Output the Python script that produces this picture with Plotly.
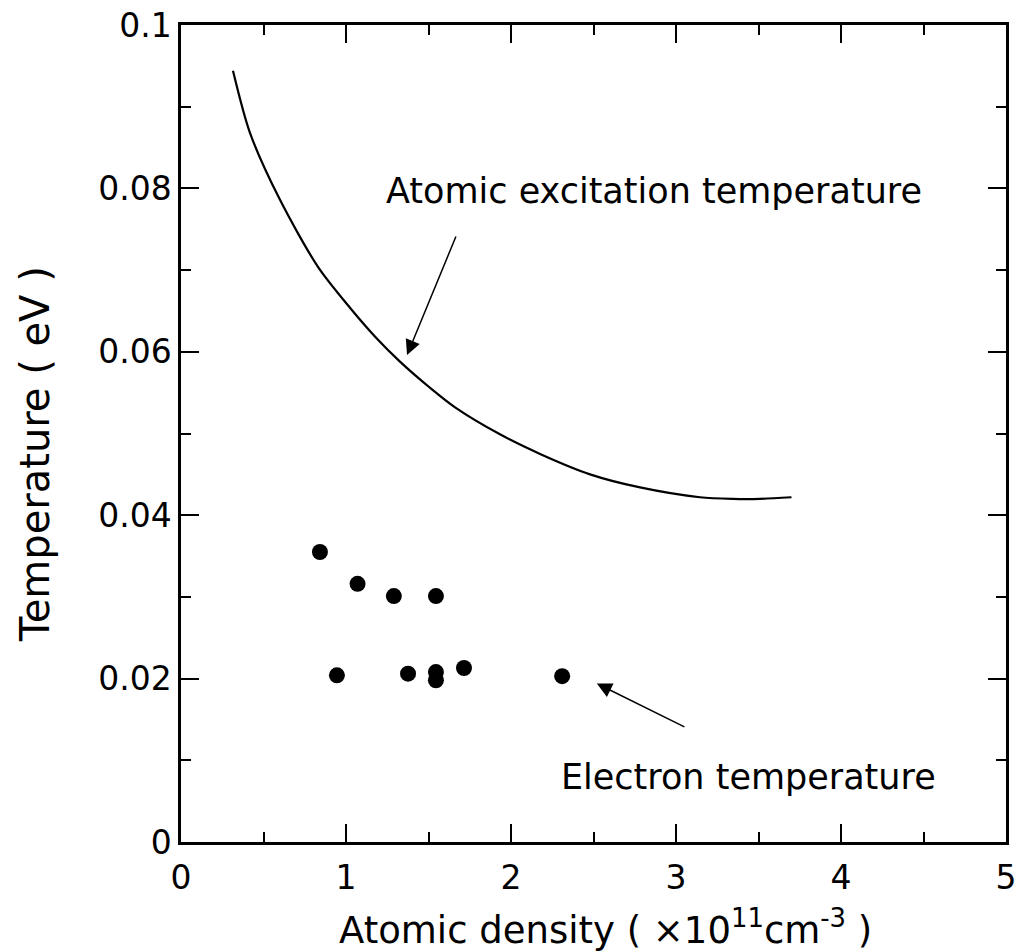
import plotly.graph_objects as go

# Atomic excitation temperature curve
curve_x = [0.315, 0.418, 0.60, 0.83, 1.024, 1.188, 1.327, 1.509, 1.661, 1.933, 2.176, 2.479, 2.782, 3.145, 3.345, 3.509, 3.70]
curve_y = [0.0944, 0.0868, 0.0786, 0.0704, 0.0654, 0.0616, 0.0588, 0.0556, 0.0532, 0.0499, 0.0475, 0.0450, 0.0434, 0.0422, 0.0420, 0.0420, 0.0422]

# Electron temperature points
pts_x = [0.842, 1.07, 1.29, 1.545, 0.945, 1.376, 1.545, 1.545, 1.715, 2.31]
pts_y = [0.0355, 0.0316, 0.0301, 0.0301, 0.0204, 0.0206, 0.0208, 0.0198, 0.0213, 0.0203]

x_ticks = [0, 1, 2, 3, 4, 5]
x_ticklabels = ["0", "1", "2", "3", "4", "5"]
y_ticks = [0, 0.02, 0.04, 0.06, 0.08, 0.1]
y_ticklabels = ["0", "0.02", "0.04", "0.06", "0.08", "0.1"]

x_title = "Atomic density ( \u00d710<sup>11</sup>cm<sup>-3</sup> )"
y_title = "Temperature ( eV )"

FONT = "DejaVu Sans"

fig = go.Figure()
fig.add_trace(go.Scatter(x=curve_x, y=curve_y, mode="lines",
                         line=dict(color="black", width=2.2, shape="spline", smoothing=0.8),
                         showlegend=False))
fig.add_trace(go.Scatter(x=pts_x, y=pts_y, mode="markers", marker=dict(color="black", size=16),
                         showlegend=False))

axis_common = dict(showline=True, linecolor="black", linewidth=2.5, mirror="allticks",
                   ticks="inside", ticklen=18, tickwidth=2, tickcolor="black",
                   showgrid=False, zeroline=False,
                   tickfont=dict(family=FONT, size=33, color="black"))

fig.update_xaxes(range=[0, 5], tickvals=x_ticks, ticktext=x_ticklabels, ticklabelstandoff=5,
                 minor=dict(ticks="inside", ticklen=10, tickwidth=1.5, tickcolor="black", dtick=0.5, tick0=0),
                 **axis_common)
fig.update_yaxes(range=[0, 0.1], tickvals=y_ticks, ticktext=y_ticklabels,
                 minor=dict(ticks="inside", ticklen=10, tickwidth=1.5, tickcolor="black", dtick=0.01, tick0=0),
                 **axis_common)

# axis titles
fig.add_annotation(x=0.514, y=-0.105, xref="paper", yref="paper", xanchor="center", yanchor="middle",
                   text=x_title, showarrow=False, font=dict(family=FONT, size=37, color="black"))
fig.add_annotation(x=-0.177, y=0.475, xref="paper", yref="paper", xanchor="center", yanchor="middle",
                   text=y_title, textangle=-90, showarrow=False, font=dict(family=FONT, size=40, color="black"))

# arrows and labels
fig.add_annotation(x=1.37, y=0.0596, ax=1.67, ay=0.0743, axref="x", ayref="y", xref="x", yref="y",
                   showarrow=True, arrowhead=2, arrowsize=2, arrowwidth=1.5, arrowcolor="black", text="")
fig.add_annotation(x=2.52, y=0.0194, ax=3.06, ay=0.0140, axref="x", ayref="y", xref="x", yref="y",
                   showarrow=True, arrowhead=2, arrowsize=2, arrowwidth=1.5, arrowcolor="black", text="")
fig.add_annotation(x=1.23, y=0.0797, xref="x", yref="y", xanchor="left", yanchor="middle",
                   text="Atomic excitation temperature", showarrow=False,
                   font=dict(family=FONT, size=35, color="black"))
fig.add_annotation(x=2.29, y=0.0080, xref="x", yref="y", xanchor="left", yanchor="middle",
                   text="Electron temperature", showarrow=False,
                   font=dict(family=FONT, size=35, color="black"))

fig.update_layout(width=1018, height=952, margin=dict(l=181, r=12, t=25, b=110, autoexpand=False),
                  plot_bgcolor="white", paper_bgcolor="white")

fig.write_html("out.html")
